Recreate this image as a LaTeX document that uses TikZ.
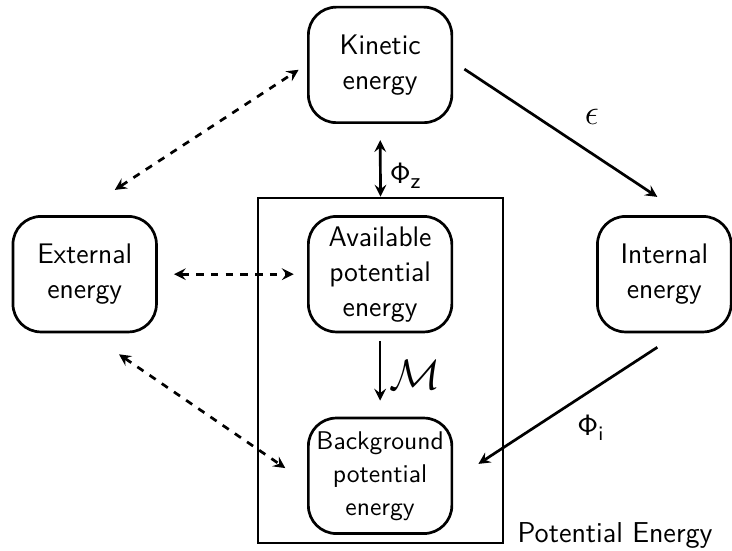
\documentclass[tikz,border=0pt]{standalone}
\begin{document}
\begin{tikzpicture}[>=stealth,
    box/.style={draw, line width=1.1pt, rounded corners=0.4cm, align=center,
        minimum width=2.05cm, minimum height=1.65cm, inner sep=2pt,
        font=\sffamily\fontsize{11.5}{14.2}\selectfont},
    flow/.style={->, line width=1.1pt},
    link/.style={<->, line width=1.1pt, dashed}]
    \useasboundingbox (0,0) rectangle (10.457,7.857);
    % Energy reservoirs:
    \node[box] (kin) at (5.43, 6.93) {Kinetic\\energy};
    \node[box] (ext) at (1.21, 3.94) {External\\energy};
    \node[box] (ape) at (5.43, 3.94) {Available\\potential\\energy};
    \node[box, minimum width=1.91cm] (int) at (9.49, 3.94) {Internal\\energy};
    \node[box, font=\sffamily\fontsize{10.4}{13.4}\selectfont] (bpe) at (5.43, 1.06) {Background\\potential\\energy};
    % Potential energy frame:
    \node[draw, line width=1.1pt, minimum width=3.5cm, minimum height=4.93cm] (pe) at (5.436, 2.564) {};
    \node[anchor=base west, inner sep=0pt, font=\sffamily\fontsize{11.7}{14}\selectfont] (pelabel) at (7.386, 0.114) {Potential Energy};
    % Exchanges:
    \draw[link] ([shift={(0.43,0.36)}]ext.north) -- ([shift={(-0.12,-0.07)}]kin.west);
    \draw[link, shorten <=0.23cm, shorten >=0.19cm] (ext.east) -- (ape.west);
    \draw[link] ([shift={(0.49,-0.3)}]ext.south) -- ([shift={(-0.31,0.11)}]bpe.west);
    \draw[<->, line width=1.1pt, shorten <=0.23cm] (kin.south) -- (pe.north)
        node[midway, right, yshift=-0.22cm] {\fontsize{12.5}{14}\selectfont$\mathsf{\Phi}_\mathsf{z}$};
    \draw[flow] ([shift={(0.16,-0.06)}]kin.east) -- ([shift={(-0.1,0.26)}]int.north)
        node[pos=0.55, above right=2pt] {\Large$\epsilon$};
    \draw[flow, shorten <=0.11cm, shorten >=0.23cm] (ape.south) -- (bpe.north)
        node[midway, right] {\fontsize{16}{18}\selectfont$\mathcal{M}$};
    \draw[flow] ([shift={(-0.1,-0.2)}]int.south) -- ([shift={(0.36,0.17)}]bpe.east)
        node[pos=0.5, below right] {\fontsize{12}{14}\selectfont$\mathsf{\Phi}_\mathsf{i}$};
\end{tikzpicture}
\end{document}
